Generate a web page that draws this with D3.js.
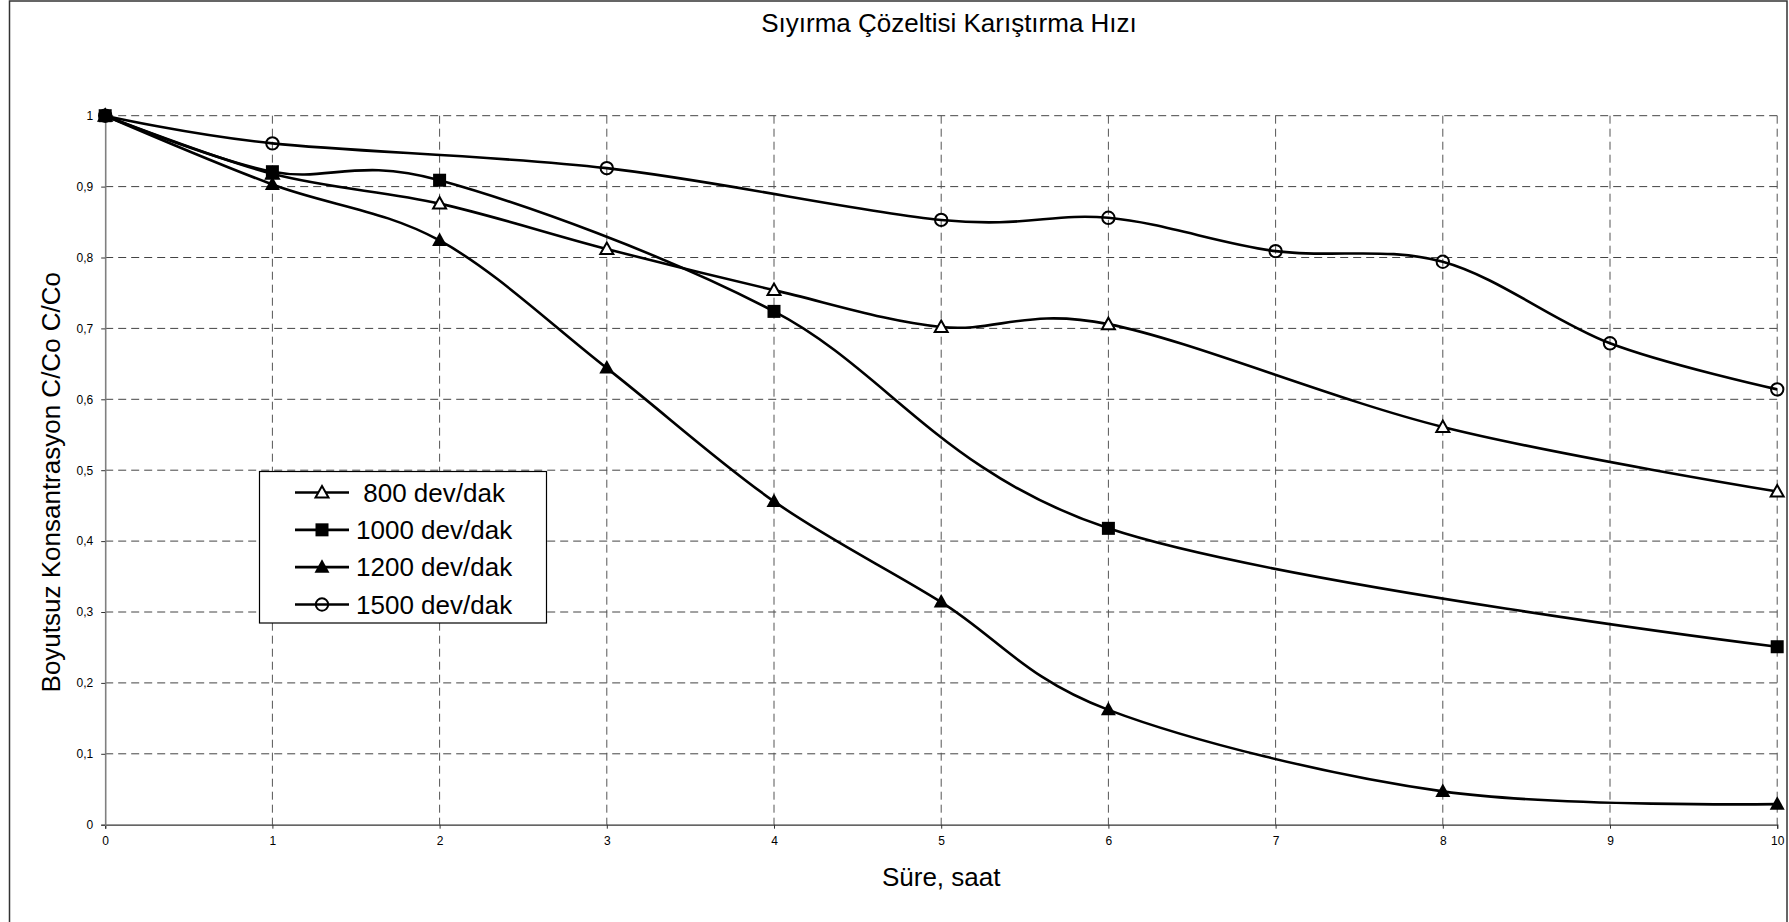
<!DOCTYPE html>
<html>
<head>
<meta charset="utf-8">
<script src="https://cdn.jsdelivr.net/npm/d3@7"></script>
<style>
  html, body { margin: 0; padding: 0; background: #fff; }
  svg { display: block; }
  text { font-family: "Liberation Sans", Arial, sans-serif; fill: #000; }
</style>
</head>
<body>
<svg id="chart" width="1789" height="922"></svg>
<script>
// ---- Data ----
const chartTitle = "Sıyırma Çözeltisi Karıştırma Hızı";
const xAxisTitle = "Süre, saat";
const yAxisTitle = "Boyutsuz Konsantrasyon C/Co C/Co";

const xTickValues = [0, 1, 2, 3, 4, 5, 6, 7, 8, 9, 10];
const yTickValues = [0, 0.1, 0.2, 0.3, 0.4, 0.5, 0.6, 0.7, 0.8, 0.9, 1];
const yTickLabels = ["0", "0,1", "0,2", "0,3", "0,4", "0,5", "0,6", "0,7", "0,8", "0,9", "1"];

const seriesNames = [" 800 dev/dak", "1000 dev/dak", "1200 dev/dak", "1500 dev/dak"];
const seriesMarkers = ["triangleOpen", "square", "triangle", "circleOpen"];

const t800  = [0, 1, 2, 3, 4, 5, 6, 8, 10];
const v800  = [1.0, 0.918, 0.876, 0.812, 0.754, 0.702, 0.706, 0.561, 0.470];
const t1000 = [0, 1, 2, 4, 6, 10];
const v1000 = [1.0, 0.921, 0.909, 0.724, 0.418, 0.251];
const t1200 = [0, 1, 2, 3, 4, 5, 6, 8, 10];
const v1200 = [1.0, 0.903, 0.824, 0.644, 0.456, 0.314, 0.162, 0.047, 0.029];
const t1500 = [0, 1, 3, 5, 6, 7, 8, 9, 10];
const v1500 = [1.0, 0.961, 0.926, 0.853, 0.856, 0.809, 0.794, 0.679, 0.614];

const seriesT = [t800, t1000, t1200, t1500];
const seriesV = [v800, v1000, v1200, v1500];

// ---- Layout ----
const svg = d3.select("#chart");
const W = 1789, H = 922;
const plot = { left: 105.2, right: 1777.2, top: 115.7, bottom: 824.7 };

const x = d3.scaleLinear().domain([0, 10]).range([plot.left, plot.right]);
const y = d3.scaleLinear().domain([0, 1]).range([plot.bottom, plot.top]);

svg.append("rect").attr("width", W).attr("height", H).attr("fill", "#fff");
// outer chart border
svg.append("rect")
  .attr("x", 9.5).attr("y", 1).attr("width", 1777.5).attr("height", 922)
  .attr("fill", "none").attr("stroke", "#333").attr("stroke-width", 1.5);

// grid
const grid = svg.append("g");
grid.selectAll("line.h").data(yTickValues.filter(v => v > 0)).join("line")
  .attr("x1", plot.left).attr("x2", plot.right)
  .attr("y1", d => y(d)).attr("y2", d => y(d))
  .attr("stroke", "#444").attr("stroke-width", 1).attr("stroke-dasharray", "8,5");
grid.selectAll("line.v").data(xTickValues.filter(v => v > 0)).join("line")
  .attr("x1", d => x(d)).attr("x2", d => x(d))
  .attr("y1", plot.top).attr("y2", plot.bottom)
  .attr("stroke", "#555").attr("stroke-width", 1).attr("stroke-dasharray", "8,5");

// axes
const xAxis = d3.axisBottom(x).tickValues(xTickValues).tickSize(4).tickPadding(8)
  .tickFormat(d => String(d));
const gx = svg.append("g").attr("transform", `translate(0,${plot.bottom})`).call(xAxis);
gx.select(".domain").attr("stroke", "#333").attr("stroke-width", 1.2);
gx.selectAll(".tick line").attr("stroke", "#333");
gx.selectAll(".tick text").attr("font-size", 12).attr("font-family", "Liberation Sans, Arial, sans-serif").attr("fill", "#111");

const yAxis = d3.axisLeft(y).tickValues(yTickValues).tickSize(4).tickPadding(8)
  .tickFormat((d, i) => yTickLabels[i]);
const gy = svg.append("g").attr("transform", `translate(${plot.left},0)`).call(yAxis);
gy.select(".domain").attr("stroke", "#808080").attr("stroke-width", 1.6);
gy.selectAll(".tick line").attr("stroke", "#333");
gy.selectAll(".tick text").attr("font-size", 12).attr("font-family", "Liberation Sans, Arial, sans-serif").attr("fill", "#111");

// titles
svg.append("text").attr("x", 949).attr("y", 32).attr("text-anchor", "middle")
  .attr("font-size", 26).text(chartTitle);
svg.append("text").attr("x", (plot.left + plot.right) / 2).attr("y", 886).attr("text-anchor", "middle")
  .attr("font-size", 26).text(xAxisTitle);
svg.append("text")
  .attr("transform", `translate(60,${(plot.top + plot.bottom) / 2 + 12}) rotate(-90)`)
  .attr("text-anchor", "middle").attr("font-size", 26).text(yAxisTitle);

// lines
const line = d3.line().x(d => x(d[0])).y(d => y(d[1])).curve(d3.curveCardinal.tension(0));
const lines = svg.append("g");
seriesT.forEach((ts, i) => {
  const pts = ts.map((t, j) => [t, seriesV[i][j]]);
  lines.append("path").attr("d", line(pts)).attr("fill", "none")
    .attr("stroke", "#000").attr("stroke-width", 2.6).attr("stroke-linejoin", "round");
});

// markers
function drawMarker(g, type, cx, cy) {
  if (type === "square") {
    g.append("rect").attr("x", cx - 6.5).attr("y", cy - 6.5).attr("width", 13).attr("height", 13).attr("fill", "#000");
  } else if (type === "triangle") {
    g.append("path").attr("d", `M${cx},${cy - 8} L${cx + 7.5},${cy + 5.5} L${cx - 7.5},${cy + 5.5} Z`).attr("fill", "#000");
  } else if (type === "triangleOpen") {
    g.append("path").attr("d", `M${cx},${cy - 6.5} L${cx + 6.5},${cy + 5} L${cx - 6.5},${cy + 5} Z`)
      .attr("fill", "#fff").attr("stroke", "#000").attr("stroke-width", 2);
  } else if (type === "circleOpen") {
    g.append("circle").attr("cx", cx).attr("cy", cy).attr("r", 6.2)
      .attr("fill", "none").attr("stroke", "#000").attr("stroke-width", 2);
  }
}
const markers = svg.append("g");
[0, 2, 3, 1].forEach(i => {
  seriesT[i].forEach((t, j) => drawMarker(markers, seriesMarkers[i], x(t), y(seriesV[i][j])));
});

// legend
const lg = svg.append("g");
lg.append("rect").attr("x", 259.5).attr("y", 471.5).attr("width", 287).attr("height", 151.5)
  .attr("fill", "#fff").attr("stroke", "#000").attr("stroke-width", 1.2);
const rowY = d3.scaleLinear().domain([0, 3]).range([492.5, 604.5]);
seriesNames.forEach((name, i) => {
  const cy = rowY(i);
  lg.append("line").attr("x1", 295).attr("x2", 349).attr("y1", cy).attr("y2", cy)
    .attr("stroke", "#000").attr("stroke-width", 2.6);
  drawMarker(lg, seriesMarkers[i], 322, cy);
  lg.append("text").attr("x", 356).attr("y", cy).attr("dy", "0.35em")
    .attr("font-size", 26).style("white-space", "pre").text(name);
});
</script>
</body>
</html>
